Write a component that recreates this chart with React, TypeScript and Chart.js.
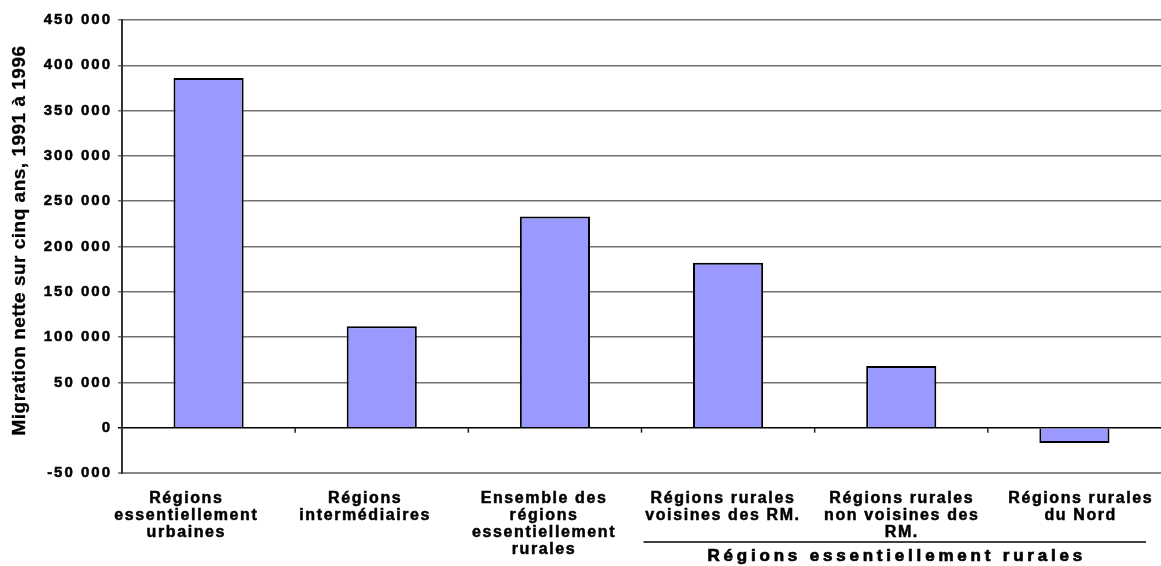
import React, { useEffect, useRef } from "react";
import { Chart, registerables } from "chart.js";

Chart.register(...registerables);

const categories: string[][] = [
  ["Régions", "essentiellement", "urbaines"],
  ["Régions", "intermédiaires"],
  ["Ensemble des", "régions", "essentiellement", "rurales"],
  ["Régions rurales", "voisines des RM."],
  ["Régions rurales", "non voisines des", "RM."],
  ["Régions rurales", "du Nord"],
];
const values: number[] = [386000, 112000, 233000, 182000, 68000, -17000];
const yMin = -50000;
const yMax = 450000;
const yStep = 50000;
const yTitle = "Migration nette sur cinq ans, 1991 à 1996";
const groupLabel = "Régions essentiellement rurales";
const groupStart = 3;

const FONT = "'Liberation Sans', Arial, sans-serif";

function fmt(v: number): string {
  const s = Math.abs(v).toString().replace(/\B(?=(\d{3})+(?!\d))/g, " ");
  return (v < 0 ? "-" : "") + s;
}

function boldText(ctx: CanvasRenderingContext2D, t: string, x: number, y: number) {
  ctx.strokeText(t, x, y);
  ctx.fillText(t, x, y);
}

const overlay = {
  id: "overlay",
  beforeDraw(chart: any) {
    chart.ctx.letterSpacing = "2px";
  },
  beforeDatasetsDraw(chart: any) {
    chart.ctx.letterSpacing = "0px";
  },
  afterDraw(chart: any) {
    const ctx = chart.ctx as CanvasRenderingContext2D;
    const x = chart.scales.x;
    const y = chart.scales.y;
    const area = chart.chartArea;
    const zeroY = y.getPixelForValue(0);
    const n = categories.length;
    const half = (x.getPixelForValue(1) - x.getPixelForValue(0)) / 2;
    ctx.save();
    // category separator ticks at zero line
    ctx.strokeStyle = "#222";
    ctx.lineWidth = 1.5;
    for (let i = 1; i < n; i++) {
      const bx = x.getPixelForValue(i) - half;
      ctx.beginPath();
      ctx.moveTo(bx, zeroY);
      ctx.lineTo(bx, zeroY + 5);
      ctx.stroke();
    }
    // category labels
    ctx.fillStyle = "#000";
    ctx.strokeStyle = "#000";
    ctx.lineWidth = 0.5;
    ctx.font = `bold 16px ${FONT}`;
    ctx.letterSpacing = "1.6px";
    ctx.textAlign = "center";
    ctx.textBaseline = "alphabetic";
    const spread = 1.033;
    const mid = (area.left + area.right) / 2;
    categories.forEach((lines, i) => {
      const cx = mid + (x.getPixelForValue(i) - mid) * spread - 10;
      lines.forEach((ln, j) => {
        boldText(ctx, ln, cx + 2, area.bottom + 30 + j * 17);
      });
    });
    // group line and label
    const gx0 = x.getPixelForValue(groupStart) - half + 2;
    const gx1 = area.right - 15;
    const gy = area.bottom + 69;
    ctx.lineWidth = 1.5;
    ctx.beginPath();
    ctx.moveTo(gx0, gy);
    ctx.lineTo(gx1, gy);
    ctx.stroke();
    ctx.lineWidth = 0.7;
    ctx.font = `bold 17px ${FONT}`;
    ctx.letterSpacing = "3.8px";
    boldText(ctx, groupLabel, (gx0 + gx1) / 2 + 2, gy + 19);
    // y axis title
    ctx.font = `bold 19px ${FONT}`;
    ctx.letterSpacing = "0.5px";
    ctx.textBaseline = "middle";
    ctx.translate(20, (area.top + area.bottom) / 2 - 6);
    ctx.rotate(-Math.PI / 2);
    ctx.lineWidth = 0.3;
    boldText(ctx, yTitle, 0, 0);
    ctx.restore();
    ctx.letterSpacing = "0px";
  },
};

export default function App() {
  const ref = useRef<HTMLCanvasElement>(null);
  useEffect(() => {
    if (!ref.current) return;
    const chart = new Chart(ref.current, {
      type: "bar",
      data: {
        labels: categories.map((c) => c.join(" ")),
        datasets: [
          {
            data: values,
            backgroundColor: "#9999FF",
            borderColor: "#000",
            borderWidth: 2,
            barPercentage: 0.405,
            categoryPercentage: 1,
          },
        ],
      },
      options: {
        animation: false,
        responsive: false,
        layout: { padding: { top: 20, bottom: 93, left: 0, right: 0 } },
        plugins: { legend: { display: false }, tooltip: { enabled: false } },
        scales: {
          x: { display: false },
          y: {
            min: yMin,
            max: yMax,
            afterFit: (s: any) => {
              s.width = 122;
            },
            ticks: {
              stepSize: yStep,
              color: "#000",
              padding: 6,
              textStrokeColor: "#000",
              textStrokeWidth: 0.5,
              font: { family: FONT, size: 15, weight: "bold" },
              callback: (v: any) => fmt(Number(v)),
            },
            grid: {
              tickLength: 4,
              color: (c: any) =>
                c.tick && c.tick.value === 0 ? "#000" : c.tick && c.tick.value === yMin ? "#888" : "#707070",
              lineWidth: (c: any) => (c.tick && c.tick.value === yMin ? 2 : 1.5),
            },
            border: { display: true, color: "#333", width: 2 },
          },
        },
      },
      plugins: [overlay],
    });
    return () => chart.destroy();
  }, []);
  return (
    <div style={{ position: "absolute", left: 0, top: 0, width: 1161, height: 566, background: "#fff" }}>
      <canvas ref={ref} width={1161} height={566} />
    </div>
  );
}
